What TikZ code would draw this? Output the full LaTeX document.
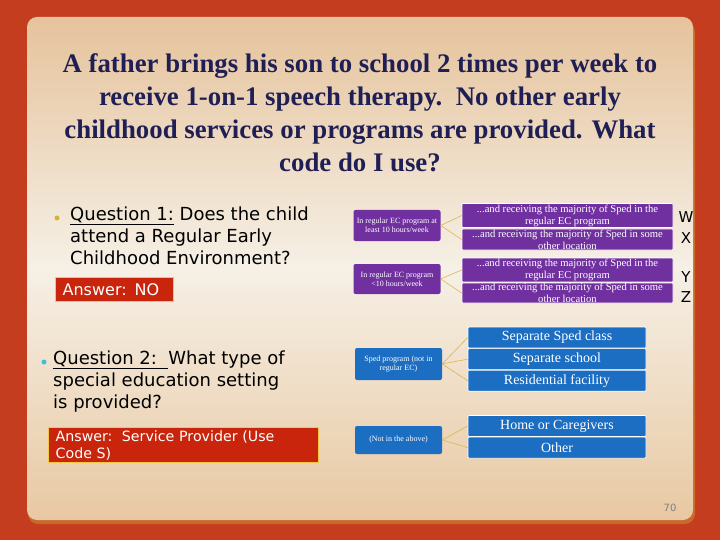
\documentclass[tikz,border=0pt]{standalone}
\usepackage{fontspec}
\setmainfont{Liberation Serif}
\newfontfamily\bodyfont{DejaVu Sans}
\usetikzlibrary{positioning}

\definecolor{slidered}{HTML}{C43D1E}
\definecolor{panedge}{HTML}{C9692A}
\definecolor{pantop}{HTML}{E5C39C}
\definecolor{panmid}{HTML}{F6F0E6}
\definecolor{panbot}{HTML}{E8C8A2}
\definecolor{titleblue}{HTML}{1F1F55}
\definecolor{ansred}{HTML}{C8250C}
\definecolor{ansedge}{HTML}{F6C646}
\definecolor{bulletgold}{HTML}{D2B43C}
\definecolor{bulletcyan}{HTML}{3CC3DA}
\definecolor{spedpurple}{HTML}{7030A0}
\definecolor{spedblue}{HTML}{1C6EC2}
\definecolor{linkgold}{HTML}{D9B74A}

\tikzset{
  qtext/.style={anchor=north west, align=left, inner sep=0pt,
    font=\bodyfont\fontsize{18}{22}\selectfont},
  ansbox/.style={draw=ansedge, fill=ansred, line width=1.3pt, text=white,
    anchor=north west, align=left, inner sep=0pt},
  dot/.style={circle, inner sep=0pt, minimum size=5pt},
  leftbox/.style={rounded corners=2pt, text=white, align=center, inner sep=1pt,
    minimum width=87pt, font=\fontsize{8}{9}\selectfont},
  rightbox/.style={draw=white, line width=0.6pt, rounded corners=1pt, text=white,
    align=center, inner sep=0pt, font=\fontsize{10.6}{12}\selectfont},
  choice/.style={rightbox, minimum width=178pt, minimum height=21pt,
    fill=spedblue, font=\fontsize{14}{15}\selectfont},
  codeletter/.style={font=\bodyfont\fontsize{15}{15}\selectfont, inner sep=0pt},
  link/.style={draw=linkgold, line width=0.6pt}
}

\begin{document}
\begin{tikzpicture}[x=1pt, y=-1pt]
\useasboundingbox (0,0) rectangle (720,540);
% slide background
\fill[slidered] (0,0) rectangle (720,540);
\fill[panedge, rounded corners=10pt] (28,22) rectangle (695,524);
\shade[rounded corners=10pt, top color=pantop, bottom color=panbot, middle color=panmid]
  (27,17) rectangle (693,520);

% title
\node[align=center, text=titleblue, font=\bfseries\fontsize{26.8}{33}\selectfont] (title)
  at (360,113) {A father brings his son to school 2 times per week to\\
  receive 1-on-1 speech therapy.\ \ No other early\\
  childhood services or programs are provided. What\\
  code do I use?};

% question 1
\node[dot, fill=bulletgold] (b1) at (57,218) {};
\node[qtext] (q1) at (70,207) {\underline{Question 1:} Does the child\\
  attend a Regular Early\\ Childhood Environment?};
\node[ansbox, minimum height=24pt, text width=118pt,
  font=\bodyfont\fontsize{16}{17}\selectfont] (a1) at (55,277)
  {\hspace*{7pt}Answer: NO};

% question 2
\node[dot, fill=bulletcyan] (b2) at (44,362) {};
\node[qtext] (q2) at (53,351) {\underline{Question 2:\ \ }What type of\\
  special education setting\\ is provided?};
\node[ansbox, minimum height=35pt, text width=270pt,
  font=\bodyfont\fontsize{14.2}{17}\selectfont] (a2) at (48,427)
  {\hspace*{7pt}Answer:\ \ Service Provider (Use\\ \hspace*{7pt}Code S)};

% regular EC program
\node[leftbox, fill=spedpurple, minimum height=31pt] (reg10) at (397,225.5)
  {In regular EC program at\\ least 10 hours/week};
\node[leftbox, fill=spedpurple, minimum height=30pt] (reglt) at (397,279)
  {In regular EC program\\ <10 hours/week};
\node[rightbox, fill=spedpurple, minimum width=211pt, minimum height=24pt] (w) at (567.5,215.5)
  {...and receiving the majority of Sped in the\\ regular EC program};
\node[rightbox, fill=spedpurple, minimum width=211pt, minimum height=21pt] (x) at (567.5,239.5)
  {...and receiving the majority of Sped in some\\ other location};
\node[rightbox, fill=spedpurple, minimum width=211pt, minimum height=24pt] (y) at (567.5,270)
  {...and receiving the majority of Sped in the\\ regular EC program};
\node[rightbox, fill=spedpurple, minimum width=211pt, minimum height=20pt] (z) at (567.5,293)
  {...and receiving the majority of Sped in some\\ other location};
\node[codeletter] (lw) at (686,217) {W};
\node[codeletter] (lx) at (686,238) {X};
\node[codeletter] (ly) at (686,277) {Y};
\node[codeletter] (lz) at (686,297) {Z};
\draw[link] (reg10.east) -- (w.west);
\draw[link] (reg10.east) -- (x.west);
\draw[link] (reglt.east) -- (y.west);
\draw[link] (reglt.east) -- (z.west);

% sped program
\node[leftbox, fill=spedblue, minimum height=32pt] (sped) at (398.5,364)
  {Sped program (not in\\ regular EC)};
\node[choice] (sepclass) at (557,337.5) {Separate Sped class};
\node[choice, below=0pt of sepclass] (sepschool) {Separate school};
\node[choice, below=0pt of sepschool] (resfac) {Residential facility};
\draw[link] (sped.east) -- (sepclass.west);
\draw[link] (sped.east) -- (sepschool.west);
\draw[link] (sped.east) -- (resfac.west);

% none of the above
\node[leftbox, fill=spedblue, minimum height=28pt] (none) at (398.5,440)
  {(Not in the above)};
\node[choice] (home) at (557,426) {Home or Caregivers};
\node[choice, below=0pt of home] (other) {Other};
\draw[link] (none.east) -- (home.west);
\draw[link] (none.east) -- (other.west);

% page number
\node[text=gray, font=\bodyfont\fontsize{10}{10}\selectfont] (page) at (670,508) {70};
\end{tikzpicture}
\end{document}
